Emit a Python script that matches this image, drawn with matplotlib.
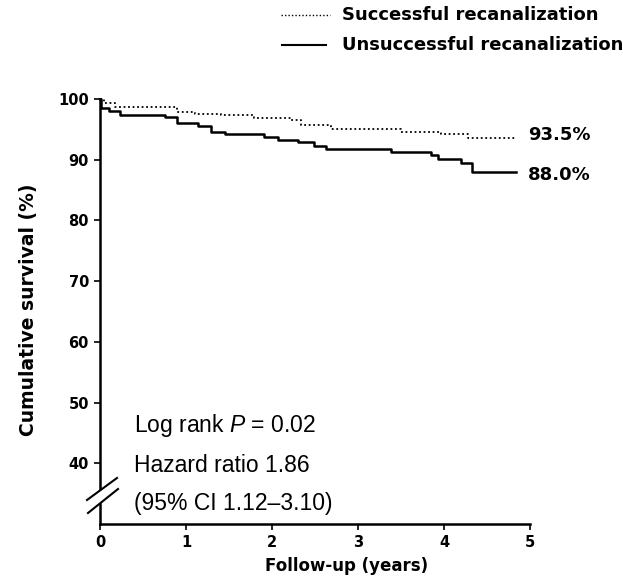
import numpy as np
import matplotlib.pyplot as plt
from matplotlib.lines import Line2D
from matplotlib.patches import Polygon

plt.rcParams['font.family'] = ['Liberation Sans', 'DejaVu Sans']
plt.rcParams['mathtext.fontset'] = 'custom'
plt.rcParams['mathtext.it'] = 'Liberation Sans:italic'
plt.rcParams['mathtext.rm'] = 'Liberation Sans'
BOLD = 'DejaVu Sans'

# Kaplan-Meier step data (years, % surviving)
succ_t = [0, 0.05, 0.17, 0.90, 1.10, 1.41, 1.79, 2.22, 2.34, 2.69, 3.50, 3.97, 4.28, 4.84]
succ_s = [100, 99.3, 98.7, 97.9, 97.6, 97.3, 96.8, 96.5, 95.8, 95.1, 94.6, 94.2, 93.5, 93.5]

unsucc_t = [0, 0.01, 0.10, 0.23, 0.75, 0.90, 1.14, 1.29, 1.45, 1.91, 2.07, 2.30, 2.49, 2.63,
            3.38, 3.85, 3.93, 4.20, 4.33, 4.84]
unsucc_s = [100, 98.6, 98.0, 97.4, 97.0, 96.0, 95.6, 94.5, 94.3, 93.8, 93.3, 92.9, 92.3, 91.8,
            91.3, 90.7, 90.2, 89.5, 88.0, 88.0]

end_labels = ['93.5%', '88.0%']
end_y = [94.1, 87.5]

x_ticks = [0, 1, 2, 3, 4, 5]
y_ticks = [40, 50, 60, 70, 80, 90, 100]

fig = plt.figure(figsize=(6.23, 5.77), dpi=100)
ax = fig.add_axes([100 / 623, 53 / 577, 430 / 623, 425 / 577])

ax.step(succ_t, succ_s, where='post', color='black', lw=1.3, ls=(0, (1, 1.5)), clip_on=False)
ax.step(unsucc_t, unsucc_s, where='post', color='black', lw=1.8, clip_on=False)

ax.set_xlim(0, 5)
ax.set_ylim(30, 100)
ax.set_xticks(x_ticks)
ax.set_yticks(y_ticks)
ax.tick_params(direction='out', length=4, width=1.2, labelsize=10.5, pad=4)
for lab in ax.get_xticklabels() + ax.get_yticklabels():
    lab.set_fontweight('bold')
    lab.set_family(BOLD)
for s in ['top', 'right']:
    ax.spines[s].set_visible(False)
for s in ['left', 'bottom']:
    ax.spines[s].set_linewidth(1.8)

# end-of-curve percentages
for lab, yv in zip(end_labels, end_y):
    ax.text(4.98, yv, lab, ha='left', va='center', fontsize=13, fontweight='bold', family=BOLD)

# statistics
ax.text(0.40, 46.3, r'Log rank $\it{P}$ = 0.02', fontsize=16.5, va='center')
ax.text(0.40, 39.7, 'Hazard ratio 1.86', fontsize=16.5, va='center')
ax.text(0.40, 33.4, '(95% CI 1.12\u20133.10)', fontsize=16.5, va='center')

# axis break marks on the y axis
W, H = 623, 577
def fx(px):
    return px / W
def fy(py):
    return 1 - py / H
gap = Polygon([(fx(87), fy(500)), (fx(117), fy(478)), (fx(118), fy(489)), (fx(88), fy(513))],
              closed=True, transform=fig.transFigure, color='white', zorder=5)
fig.patches.append(gap)
fig.lines.append(Line2D([fx(87), fx(117)], [fy(500), fy(478)], transform=fig.transFigure,
                        color='black', lw=1.5, zorder=6))
fig.lines.append(Line2D([fx(88), fx(118)], [fy(513), fy(489)], transform=fig.transFigure,
                        color='black', lw=1.5, zorder=6))

# legend drawn by hand at the top
fig.lines.append(Line2D([fx(281), fx(330)], [fy(15), fy(15)], transform=fig.transFigure,
                        color='black', lw=1.0, ls=(0, (1, 1.5))))
fig.lines.append(Line2D([fx(282), fx(326)], [fy(45), fy(45)], transform=fig.transFigure,
                        color='black', lw=1.5))
fig.text(fx(342), fy(15), 'Successful recanalization', fontsize=13, fontweight='bold',
         va='center', family=BOLD)
fig.text(fx(342), fy(45), 'Unsuccessful recanalization', fontsize=13, fontweight='bold',
         va='center', family=BOLD)

fig.text(fx(29), fy(310), 'Cumulative survival (%)', rotation=90, ha='center', va='center',
         fontsize=13.5, fontweight='bold', family=BOLD)
fig.text(fx(347), fy(566), 'Follow-up (years)', ha='center', va='center',
         fontsize=12, fontweight='bold', family=BOLD)

fig.savefig('out.png', dpi=100)
